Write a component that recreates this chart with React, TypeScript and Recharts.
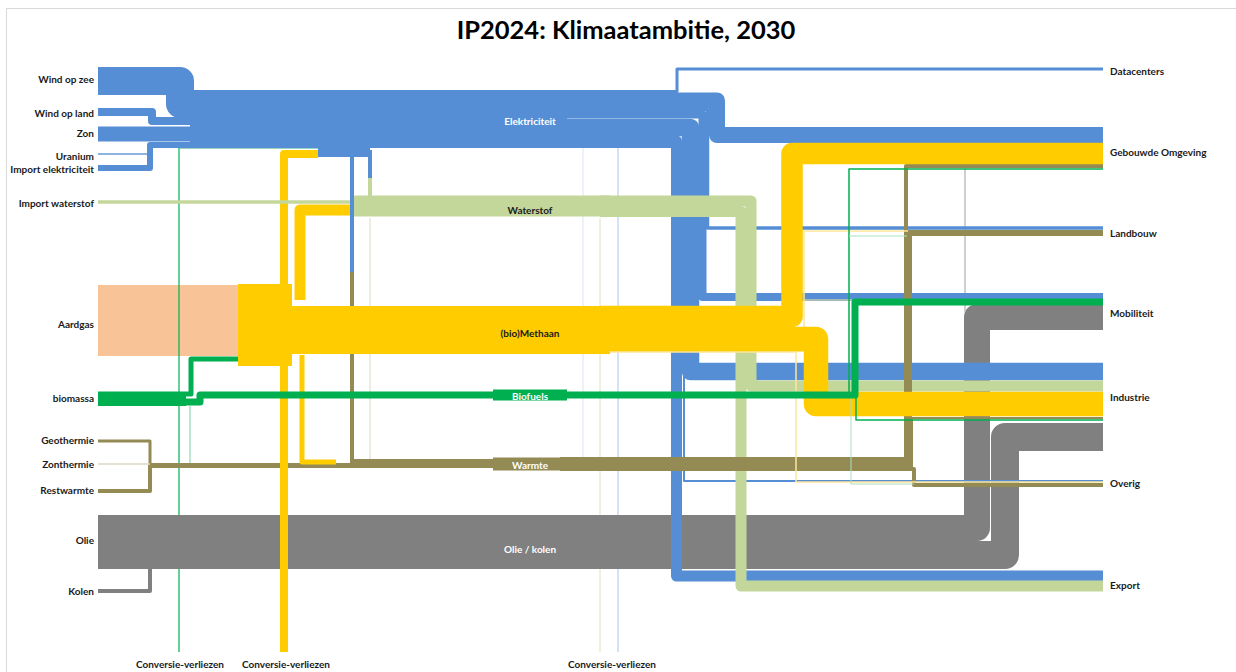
import React from 'react';
import { ComposedChart, Line, Scatter, XAxis, YAxis } from 'recharts';

type P = { x: number; y: number };
const pts = (a: number[][]): P[] => a.map(([x, y]) => ({ x, y }));

const BLUE = '#558ed5';
const BLUE_L = '#8db3e2';
const BLUE_P = '#c6d9f1';
const YEL = '#ffcc00';
const YEL_P = '#ffe699';
const H2 = '#c4d79b';
const H2_P = '#d8e4bc';
const OLIVE = '#948a54';
const OLIVE_P = '#ddd9c4';
const GREEN = '#00b050';
const GREEN_P = '#a9dfbf';
const GREY = '#808080';
const GREY_P = '#bfbfbf';
const PEACH = '#f8c396';

const FONT = "Lato, 'Open Sans', 'Liberation Sans', sans-serif";

// ---- electricity
const windOpZee = pts([[98, 81], [180, 81], [180, 104], [240, 104]]);
const windOpLand = pts([[98, 112], [152, 112], [152, 121], [240, 121]]);
const zon = pts([[98, 134], [240, 134]]);
const uranium = pts([[98, 154], [150, 154]]);
const importElek = pts([[98, 168], [150, 168], [150, 145], [240, 145]]);
const elekHub = pts([[190, 119], [567, 119]]);
const elekDatacenters = pts([[560, 91.5], [677, 91.5], [677, 69], [1103, 69]]);
const elekGebouwd = pts([[560, 100.5], [717, 100.5], [717, 135], [1103, 135]]);
const elekLandbouw = pts([[560, 109.5], [707.5, 109.5], [707.5, 228], [1103, 228]]);
const elekMobiliteit = pts([[560, 114.5], [702.5, 114.5], [702.5, 297], [1103, 297]]);
const elekIndustrie = pts([[560, 127.5], [690.5, 127.5], [690.5, 371.5], [1103, 371.5]]);
const elekExport = pts([[560, 141], [676.5, 141], [676.5, 576], [1103, 576]]);
const elekOverig = pts([[560, 147], [684, 147], [684, 481], [1103, 481]]);
const elekSmall = pts([[318, 152.5], [370, 152.5]]);
const elekToWarmte = pts([[352, 150], [352, 272]]);
const elekToH2 = pts([[370, 150], [370, 178]]);
const elekLoss1 = pts([[618, 148], [618, 652]]);
const elekLoss2 = pts([[583, 148], [583, 465]]);

// ---- methane
const aardgas = pts([[98, 320.5], [238, 320.5]]);
const gasBlock = pts([[238, 325], [292, 325]]);
const methaanHub = pts([[290, 330], [610, 330]]);
const methaanGebouwd = pts([[600, 316.5], [792, 316.5], [792, 153.5], [1103, 153.5]]);
const methaanIndustrie = pts([[600, 339], [816, 339], [816, 404], [1103, 404]]);
const methaanOverig = pts([[600, 352], [796, 352], [796, 482], [1103, 482]]);
const methaanLandbouw = pts([[600, 351], [804, 351], [804, 231], [908, 231]]);
const methaanMobiliteit = pts([[804, 300], [852, 300]]);
const methaanLoss = pts([[318, 154], [284, 154], [284, 652]]);
const methaanToH2 = pts([[300, 300], [300, 210], [356, 210]]);
const methaanToWarmte = pts([[302, 355], [302, 462], [336, 462]]);

// ---- hydrogen
const importH2 = pts([[98, 202], [372, 202]]);
const h2Hub = pts([[352, 206], [610, 206]]);
const h2FromElek = pts([[370, 176], [370, 198]]);
const h2Industrie = pts([[600, 201], [751, 201], [751, 386], [1103, 386]]);
const h2Export = pts([[600, 211.5], [741, 211.5], [741, 586], [1103, 586]]);
const h2Loss = pts([[600, 218], [600, 652]]);
const h2ToWarmte = pts([[370, 218], [370, 460]]);

// ---- heat
const geothermie = pts([[98, 441], [150, 441], [150, 465]]);
const zonthermie = pts([[98, 464], [150, 464]]);
const restwarmte = pts([[98, 491], [150, 491], [150, 465]]);
const warmteHub1 = pts([[150, 465.5], [356, 465.5]]);
const elekWarmteOlive = pts([[352, 272], [352, 462], [400, 462]]);
const warmteHub2 = pts([[350, 463.5], [570, 463.5]]);
const warmteBox = pts([[493, 464], [567, 464]]);
const warmteGebouwd = pts([[560, 459], [906, 459], [906, 166], [1103, 166]]);
const warmteLandbouw = pts([[560, 464], [909, 464], [909, 233], [1103, 233]]);
const warmteIndustrie = pts([[560, 467], [912, 467], [912, 418], [1103, 418]]);
const warmteOverig = pts([[560, 469], [914, 469], [914, 485], [1103, 485]]);

// ---- biomass
const biomassa = pts([[98, 399], [186, 399]]);
const bioToMethaan = pts([[98, 394], [191, 394], [191, 359], [238, 359]]);
const biofuels = pts([[150, 402], [200, 402], [200, 395], [855, 395], [855, 302], [1103, 302]]);
const biofuelsBox = pts([[493, 395], [567, 395]]);
const bioGebouwd = pts([[849, 393], [849, 169], [1103, 169]]);
const bioLandbouw = pts([[849, 236], [907, 236]]);
const bioIndustrie = pts([[856, 397], [856, 420], [1103, 420]]);
const bioOverig = pts([[851, 397], [851, 484], [914, 484]]);
const bioLoss = pts([[179, 148], [179, 652]]);
const bioWarmte = pts([[190, 406], [190, 464]]);
const lossTop = pts([[180, 148.5], [335, 148.5]]);

// ---- oil / coal
const olieMobiliteit = pts([[98, 528], [977, 528], [977, 317], [1103, 317]]);
const olieIndustrie = pts([[98, 555], [1005, 555], [1005, 437], [1103, 437]]);
const kolen = pts([[98, 591], [150, 591], [150, 567], [300, 567]]);
const olieGebouwd = pts([[965, 168], [965, 312]]);

type Flow = { d: P[]; w: number; c: string };
const flows: Flow[] = [
  { d: aardgas, w: 71, c: PEACH },
  { d: bioLoss, w: 1.2, c: GREEN },
  { d: lossTop, w: 1, c: '#9bd3c0' },
  { d: bioWarmte, w: 1.5, c: GREEN_P },
  { d: elekLoss1, w: 1.5, c: BLUE_P },
  { d: elekLoss2, w: 1, c: '#dbe5f1' },
  { d: h2Loss, w: 1, c: H2_P },
  { d: h2ToWarmte, w: 1, c: OLIVE_P },
  { d: olieMobiliteit, w: 26, c: GREY },
  { d: olieIndustrie, w: 28, c: GREY },
  { d: kolen, w: 4, c: GREY },
  { d: olieGebouwd, w: 1.5, c: GREY_P },
  { d: elekExport, w: 11, c: BLUE },
  { d: elekOverig, w: 2, c: BLUE },
  { d: elekIndustrie, w: 17.5, c: BLUE },
  { d: elekMobiliteit, w: 8, c: BLUE },
  { d: elekLandbouw, w: 3.5, c: BLUE },
  { d: elekGebouwd, w: 16, c: BLUE },
  { d: elekDatacenters, w: 3, c: BLUE },
  { d: h2Export, w: 11, c: H2 },
  { d: h2Industrie, w: 11, c: H2 },
  { d: geothermie, w: 3, c: OLIVE },
  { d: zonthermie, w: 1.5, c: OLIVE_P },
  { d: restwarmte, w: 4, c: OLIVE },
  { d: warmteHub1, w: 5, c: OLIVE },
  { d: elekWarmteOlive, w: 4, c: OLIVE },
  { d: warmteHub2, w: 9, c: OLIVE },
  { d: warmteBox, w: 13, c: OLIVE },
  { d: warmteGebouwd, w: 4, c: OLIVE },
  { d: warmteLandbouw, w: 6, c: OLIVE },
  { d: warmteIndustrie, w: 2, c: OLIVE },
  { d: warmteOverig, w: 4, c: OLIVE },
  { d: methaanOverig, w: 1.5, c: YEL_P },
  { d: methaanLandbouw, w: 1.5, c: YEL_P },
  { d: methaanMobiliteit, w: 1.2, c: YEL_P },
  { d: methaanIndustrie, w: 24.5, c: YEL },
  { d: methaanGebouwd, w: 21.5, c: YEL },
  { d: bioGebouwd, w: 1.5, c: GREEN },
  { d: bioLandbouw, w: 1.2, c: GREEN_P },
  { d: bioIndustrie, w: 1.5, c: GREEN },
  { d: bioOverig, w: 1, c: GREEN_P },
  { d: methaanToWarmte, w: 5, c: YEL },
  { d: methaanLoss, w: 8, c: YEL },
  { d: gasBlock, w: 82, c: YEL },
  { d: methaanHub, w: 48, c: YEL },
  { d: methaanToH2, w: 11, c: YEL },
  { d: importH2, w: 3.5, c: H2 },
  { d: h2Hub, w: 21, c: H2 },
  { d: h2FromElek, w: 4, c: H2 },
  { d: windOpZee, w: 28, c: BLUE },
  { d: windOpLand, w: 8, c: BLUE },
  { d: zon, w: 15, c: BLUE },
  { d: uranium, w: 2, c: BLUE_L },
  { d: importElek, w: 6, c: BLUE },
  { d: elekHub, w: 58, c: BLUE },
  { d: elekSmall, w: 9, c: BLUE },
  { d: elekToWarmte, w: 4, c: BLUE },
  { d: elekToH2, w: 4, c: BLUE },
  { d: biomassa, w: 14, c: GREEN },
  { d: bioToMethaan, w: 5, c: GREEN },
  { d: biofuels, w: 7, c: GREEN },
  { d: biofuelsBox, w: 11, c: GREEN },
];

// ---- labels
const sourceNames = ['Wind op zee', 'Wind op land', 'Zon', 'Uranium', 'Import elektriciteit', 'Import waterstof', 'Aardgas', 'biomassa', 'Geothermie', 'Zonthermie', 'Restwarmte', 'Olie', 'Kolen'];
const sourceY = [79, 113, 133, 156, 169, 203, 324, 398, 440, 464, 490, 540, 591];
const sinkNames = ['Datacenters', 'Gebouwde Omgeving', 'Landbouw', 'Mobiliteit', 'Industrie', 'Overig', 'Export'];
const sinkY = [71, 152, 233, 313, 397, 483, 585];
const carrierNames = ['Elektriciteit', 'Waterstof', '(bio)Methaan', 'Biofuels', 'Warmte', 'Olie / kolen'];
const carrierY = [121, 210, 333, 396, 465, 549];
const carrierColor = ['#ffffff', '#1a1a1a', '#1a1a1a', '#ffffff', '#ffffff', '#ffffff'];
const lossNames = ['Conversie-verliezen', 'Conversie-verliezen', 'Conversie-verliezen'];
const lossX = [180, 286, 612];

const sourceData = sourceNames.map((name, i) => ({ x: 94, y: sourceY[i], name }));
const sinkData = sinkNames.map((name, i) => ({ x: 1110, y: sinkY[i], name }));
const carrierData = carrierNames.map((name, i) => ({ x: 530, y: carrierY[i], name, fill: carrierColor[i] }));
const lossData = lossNames.map((name, i) => ({ x: lossX[i], y: 664, name }));

const makeText = (anchor: 'start' | 'middle' | 'end', size: number) => (p: any) => (
  <text
    x={p.cx}
    y={p.cy}
    textAnchor={anchor}
    dominantBaseline="central"
    fontFamily={FONT}
    fontWeight={700}
    fontSize={size}
    fill={p.payload.fill || '#1a1a1a'}
  >
    {p.payload.name}
  </text>
);

export default function App() {
  return (
    <div style={{ position: 'absolute', left: 0, top: 0, width: 1236, height: 672, background: '#fff', overflow: 'hidden' }}>
      <div style={{ position: 'absolute', left: 6, top: 8, width: 1230, height: 664, borderLeft: '1px solid #d9d9d9', borderTop: '1px solid #d9d9d9' }} />
      <div
        style={{
          position: 'absolute', left: 8, top: 13, width: 1236, textAlign: 'center',
          fontFamily: FONT, fontWeight: 700, fontSize: 25.5, color: '#000', lineHeight: '32px',
        }}
      >
        IP2024: Klimaatambitie, 2030
      </div>
      <div style={{ position: 'absolute', left: 0, top: 0 }}>
        <ComposedChart width={1236} height={672} margin={{ top: 0, right: 0, bottom: 0, left: 0 }}>
          <XAxis type="number" dataKey="x" domain={[0, 1236]} hide allowDataOverflow />
          <YAxis type="number" dataKey="y" domain={[0, 672]} reversed hide allowDataOverflow />
          {flows.map((f, i) => (
            <Line
              key={'f' + i}
              data={f.d}
              dataKey="y"
              type="linear"
              stroke={f.c}
              strokeWidth={f.w}
              strokeLinejoin="round"
              strokeLinecap="butt"
              dot={false}
              activeDot={false}
              isAnimationActive={false}
            />
          ))}
          <Scatter data={sourceData} dataKey="y" shape={makeText('end', 10)} isAnimationActive={false} />
          <Scatter data={sinkData} dataKey="y" shape={makeText('start', 10)} isAnimationActive={false} />
          <Scatter data={carrierData} dataKey="y" shape={makeText('middle', 10)} isAnimationActive={false} />
          <Scatter data={lossData} dataKey="y" shape={makeText('middle', 10)} isAnimationActive={false} />
        </ComposedChart>
      </div>
    </div>
  );
}
